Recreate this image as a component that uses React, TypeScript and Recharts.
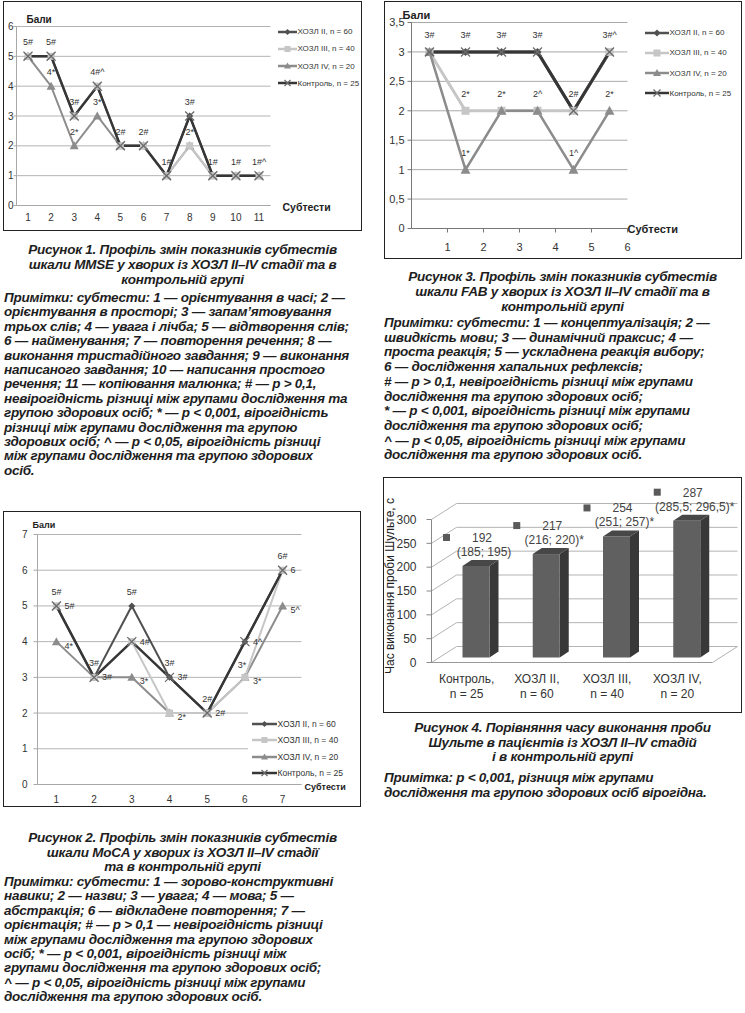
import React from 'react';
import { LineChart, Line, XAxis, YAxis, CartesianGrid, LabelList, BarChart, Bar } from 'recharts';

const FONT = '"Liberation Sans", Arial, Helvetica, sans-serif';
const INK = '#1e1e1e';

// Рисунок 1 — MMSE
const mmseSubtests = ['1', '2', '3', '4', '5', '6', '7', '8', '9', '10', '11'];
const mmseCopd2 = [5, 5, 3, 4, 2, 2, 1, 3, 1, 1, 1];
const mmseCopd3 = [5, 5, 3, 4, 2, 2, 1, 2, 1, 1, 1];
const mmseCopd4 = [5, 4, 2, 3, 2, 2, 1, 2, 1, 1, 1];
const mmseControl = [5, 5, 3, 4, 2, 2, 1, 3, 1, 1, 1];
const mmseMarksUpper = ['5#', '5#', '3#', '4#^', '2#', '2#', '1#', '3#', '1#', '1#', '1#^'];
const mmseMarksLower = ['', '4*', '2*', '3*', '', '', '', '2*', '', '', ''];

// Рисунок 3 — FAB (points sit between the axis ticks)
const fabSubtests = [0.5, 1.5, 2.5, 3.5, 4.5, 5.5];
const fabCopd2 = [3, 3, 3, 3, 2, 3];
const fabCopd3 = [3, 2, 2, 2, 2, 3];
const fabCopd4 = [3, 1, 2, 2, 1, 2];
const fabControl = [3, 3, 3, 3, 2, 3];
const fabMarksUpper = ['3#', '3#', '3#', '3#', '2#', '3#^'];
const fabMarksCopd3 = ['', '2*', '', '', '', ''];
const fabMarksCopd4 = ['', '1*', '2*', '2^', '1^', '2*'];

// Рисунок 2 — MoCA
const mocaSubtests = ['1', '2', '3', '4', '5', '6', '7'];
const mocaCopd2 = [5, 3, 5, 3, 2, 4, 6];
const mocaCopd3 = [5, 3, 4, 2, 2, 3, 6];
const mocaCopd4 = [4, 3, 3, 2, 2, 3, 5];
const mocaControl = [5, 3, 4, 3, 2, 4, 6];
const mocaMarksCopd2 = ['5#', '3#', '5#', '3#', '2#', '', '6#'];
const mocaMarksCopd3 = ['', '', '', '', '', '3*', ''];
const mocaMarksControl = ['5#', '3#', '4#', '3#', '2#', '4^', '6'];
const mocaMarksCopd4 = ['4*', '', '3*', '2*', '', '3*', '5^'];

// Рисунок 4 — проба Шульте
const shulteGroups = ['Контроль, n = 25', 'ХОЗЛ II, n = 60', 'ХОЗЛ III, n = 40', 'ХОЗЛ IV, n = 20'];
const shulteMedians = [192, 217, 254, 287];
const shulteRanges = ['(185; 195)', '(216; 220)*', '(251; 257)*', '(285,5; 296,5)*'];

const SERIES: Record<string, { name: string; color: string; kind: string }> = {
  copd2: { name: 'ХОЗЛ II, n = 60', color: '#505050', kind: 'diamond' },
  copd3: { name: 'ХОЗЛ III, n = 40', color: '#c6c6c6', kind: 'square' },
  copd4: { name: 'ХОЗЛ IV, n = 20', color: '#8c8c8c', kind: 'triangle' },
  control: { name: 'Контроль, n = 25', color: '#363636', kind: 'cross' },
};
const legendOrder = ['copd2', 'copd3', 'copd4', 'control'];

const Marker = ({ kind, cx, cy, color, s = 4 }: any) => {
  if (cx == null || cy == null) return null;
  switch (kind) {
    case 'diamond':
      return <polygon points={`${cx},${cy - s} ${cx + s},${cy} ${cx},${cy + s} ${cx - s},${cy}`} fill={color} />;
    case 'square':
      return <rect x={cx - s} y={cy - s} width={2 * s} height={2 * s} fill={color} />;
    case 'triangle':
      return <polygon points={`${cx},${cy - s - 0.5} ${cx + s + 0.5},${cy + s - 0.5} ${cx - s - 0.5},${cy + s - 0.5}`} fill={color} />;
    default:
      return (
        <g stroke="#6a6a6a" strokeWidth={1.3}>
          <line x1={cx - s} y1={cy - s} x2={cx + s} y2={cy + s} />
          <line x1={cx - s} y1={cy + s} x2={cx + s} y2={cy - s} />
        </g>
      );
  }
};

const dotFor = (key: string, s: number) => (p: any) => (
  <g key={`${key}-${p.index}`}>
    <Marker kind={SERIES[key].kind} cx={p.cx} cy={p.cy} color={SERIES[key].color} s={s} />
  </g>
);

const mark = (dx: number, dy: number, anchor: 'middle' | 'start' = 'middle', size = 9) => (p: any) => {
  if (!p.value) return null;
  const x = p.x ?? p.viewBox?.x;
  const y = p.y ?? p.viewBox?.y;
  return (
    <text key={`m-${p.index}-${p.value}`} x={x + dx} y={y + dy} textAnchor={anchor} fontSize={size} fill="#333" fontFamily={FONT}>
      {p.value}
    </text>
  );
};

const SeriesKey = ({ left, top, gap, fontSize, lineLen, s }: any) => (
  <div style={{ position: 'absolute', left, top, fontFamily: FONT, fontSize, color: '#333' }}>
    {legendOrder.map((k, i) => {
      const st = SERIES[k];
      return (
        <div key={k} style={{ position: 'absolute', top: i * gap - 6, left: 0, height: 12, display: 'flex', alignItems: 'center', whiteSpace: 'nowrap' }}>
          <svg width={lineLen} height={12} style={{ display: 'block' }}>
            <line x1={0} y1={6} x2={lineLen} y2={6} stroke={st.color} strokeWidth={2.5} />
            <Marker kind={st.kind} cx={lineLen / 2} cy={6} color={st.color} s={s} />
          </svg>
          <span style={{ marginLeft: 1 }}>{st.name}</span>
        </div>
      );
    })}
  </div>
);

const AxisWord = ({ left, top, size, children }: any) => (
  <div style={{ position: 'absolute', left, top: top - 7, height: 14, lineHeight: '14px', fontFamily: FONT, fontWeight: 'bold', fontSize: size, color: '#222', whiteSpace: 'nowrap' }}>
    {children}
  </div>
);

const Frame = ({ left, top, width, height, children }: any) => (
  <div style={{ position: 'absolute', left, top, width, height, border: '1.5px solid #222', boxSizing: 'border-box', background: '#fff' }}>
    {children}
  </div>
);

const TextLines = ({ lines, left, width, top, step, align }: any) => (
  <>
    {lines.map((t: string, i: number) => (
      <div
        key={i}
        style={{
          position: 'absolute', left, width, top: top + i * step - 8, height: 16, lineHeight: '16px',
          textAlign: align, whiteSpace: 'nowrap', fontFamily: FONT, fontWeight: 'bold', fontStyle: 'italic',
          fontSize: 13.5, letterSpacing: -0.25, color: INK,
        }}
      >
        {t}
      </div>
    ))}
  </>
);

const tickStyle = (size: number) => ({ fontSize: size, fill: '#333', fontFamily: FONT });
const lineProps = (key: string, width: number, s: number) => ({
  dataKey: key,
  type: 'linear' as const,
  stroke: SERIES[key].color,
  strokeWidth: width,
  dot: dotFor(key, s),
  activeDot: false,
  isAnimationActive: false,
});

const MmseChart = () => {
  const data = mmseSubtests.map((s, i) => ({
    s, copd2: mmseCopd2[i], copd3: mmseCopd3[i], copd4: mmseCopd4[i], control: mmseControl[i],
    up: mmseMarksUpper[i], low: mmseMarksLower[i],
  }));
  return (
    <LineChart width={356} height={227} data={data} margin={{ top: 24.5, right: 89.5, bottom: 0, left: 0 }}>
      <CartesianGrid vertical={false} stroke="#b4b4b4" />
      <XAxis dataKey="s" height={23.5} interval={0} padding={{ left: 11.5, right: 11.5 }} tickLine={false} axisLine={{ stroke: '#a8a8a8' }} tick={tickStyle(10)} />
      <YAxis width={12.5} domain={[0, 6]} ticks={[0, 1, 2, 3, 4, 5, 6]} tickSize={3} tickMargin={0} axisLine={{ stroke: '#a8a8a8' }} tickLine={{ stroke: '#a8a8a8' }} tick={tickStyle(10)} />
      <Line {...lineProps('copd2', 2, 3.5)} />
      <Line {...lineProps('copd4', 2, 4)}>
        <LabelList dataKey="low" content={mark(0, -11)} />
      </Line>
      <Line {...lineProps('copd3', 2, 3.5)} />
      <Line {...lineProps('control', 2.5, 4.5)}>
        <LabelList dataKey="up" content={mark(0, -11)} />
      </Line>
    </LineChart>
  );
};

const FabChart = () => {
  const data = fabSubtests.map((pos, i) => ({
    pos, copd2: fabCopd2[i], copd3: fabCopd3[i], copd4: fabCopd4[i], control: fabControl[i],
    up: fabMarksUpper[i], m3: fabMarksCopd3[i], m4: fabMarksCopd4[i],
  }));
  return (
    <LineChart width={355} height={255} data={data} margin={{ top: 20.5, right: 112.5, bottom: 0, left: 0 }}>
      <CartesianGrid vertical={false} stroke="#a9a9a9" />
      <XAxis dataKey="pos" type="number" domain={[0, 6]} ticks={[1, 2, 3, 4, 5, 6]} height={28.5} tickSize={4} tickMargin={11} axisLine={{ stroke: '#777' }} tickLine={{ stroke: '#777' }} tick={tickStyle(11)} />
      <YAxis width={26.5} domain={[0, 3.5]} ticks={[0, 0.5, 1, 1.5, 2, 2.5, 3, 3.5]} tickFormatter={(v: number) => String(v).replace('.', ',')} tickSize={4} tickMargin={3} axisLine={{ stroke: '#777' }} tickLine={{ stroke: '#777' }} tick={tickStyle(11)} />
      <Line {...lineProps('copd2', 3, 4)} />
      <Line {...lineProps('copd3', 3, 4)}>
        <LabelList dataKey="m3" content={mark(0, -14)} />
      </Line>
      <Line {...lineProps('copd4', 2.5, 4.5)}>
        <LabelList dataKey="m4" content={mark(0, -14)} />
      </Line>
      <Line {...lineProps('control', 3, 4.5)}>
        <LabelList dataKey="up" content={mark(0, -14)} />
      </Line>
    </LineChart>
  );
};

const MocaChart = () => {
  const data = mocaSubtests.map((s, i) => ({
    s, copd2: mocaCopd2[i], copd3: mocaCopd3[i], copd4: mocaCopd4[i], control: mocaControl[i],
    m2: mocaMarksCopd2[i], m3: mocaMarksCopd3[i], mc: mocaMarksControl[i], m4: mocaMarksCopd4[i],
  }));
  return (
    <LineChart width={355} height={292} data={data} margin={{ top: 22.5, right: 57.5, bottom: 0, left: 0 }}>
      <CartesianGrid vertical={false} stroke="#b4b4b4" />
      <XAxis dataKey="s" height={19.5} interval={0} padding={{ left: 18.9, right: 18.9 }} tickLine={false} tickMargin={5} axisLine={{ stroke: '#a8a8a8' }} tick={tickStyle(10)} />
      <YAxis width={33.5} domain={[0, 7]} ticks={[0, 1, 2, 3, 4, 5, 6, 7]} tickSize={4} tickMargin={6} axisLine={{ stroke: '#a8a8a8' }} tickLine={{ stroke: '#a8a8a8' }} tick={tickStyle(10)} />
      <Line {...lineProps('copd2', 2, 3.5)}>
        <LabelList dataKey="m2" content={mark(0, -11)} />
      </Line>
      <Line {...lineProps('copd4', 2, 4)}>
        <LabelList dataKey="m4" content={mark(8, 7, 'start')} />
      </Line>
      <Line {...lineProps('copd3', 2, 3.5)}>
        <LabelList dataKey="m3" content={mark(-3, -9)} />
      </Line>
      <Line {...lineProps('control', 2.5, 4.5)}>
        <LabelList dataKey="mc" content={mark(8, 3, 'start')} />
      </Line>
    </LineChart>
  );
};

// 3D look of the Excel column chart
const GRID_DX = 25;
const GRID_DY = 16;
const BAR_SHIFT_X = 9;
const BAR_SHIFT_Y = -5;
const BAR_DX = 9;
const BAR_DY = 6;
const SHULTE_FLOOR = 184.5;

const Column3D = (p: any) => {
  const { x, y, width, height } = p;
  const fx = x + BAR_SHIFT_X;
  const fy = y + BAR_SHIFT_Y;
  return (
    <g>
      <polygon points={`${fx},${fy} ${fx + BAR_DX},${fy - BAR_DY} ${fx + width + BAR_DX},${fy - BAR_DY} ${fx + width},${fy}`} fill="#474747" />
      <polygon points={`${fx + width},${fy} ${fx + width + BAR_DX},${fy - BAR_DY} ${fx + width + BAR_DX},${fy + height - BAR_DY} ${fx + width},${fy + height}`} fill="#383838" />
      <rect x={fx} y={fy} width={width} height={height} fill="#606060" />
    </g>
  );
};

const backGridLine = (p: any) => {
  const { x1, y1, x2 } = p;
  return (
    <g key={`bg-${y1}`} stroke="#b3b3b3" fill="none">
      <polyline points={`${x1},${y1} ${x1 + GRID_DX},${y1 - GRID_DY} ${x2 + GRID_DX},${y1 - GRID_DY}`} />
      {Math.abs(y1 - SHULTE_FLOOR) < 1 && <line x1={x2} y1={y1} x2={x2 + GRID_DX} y2={y1 - GRID_DY} />}
    </g>
  );
};

const shulteLabel = (p: any) => {
  const { x, y, width, index, value } = p;
  const cx = x + width / 2 + BAR_SHIFT_X;
  const ty = y + BAR_SHIFT_Y;
  return (
    <g key={`sl-${index}`} fontFamily={FONT} fontSize={12} fill="#444">
      <rect x={cx - 33} y={ty - 32} width={7} height={7} fill="#5a5a5a" />
      <text x={cx + 6} y={ty - 24} textAnchor="middle">{shulteMedians[index]}</text>
      <text x={cx + 8} y={ty - 10} textAnchor="middle">{value}</text>
    </g>
  );
};

const ShulteTick = (p: any) => {
  const [a, b] = String(p.payload.value).split(', ');
  return (
    <g fontFamily={FONT} fontSize={12} fill="#333">
      <text x={p.x} y={p.y + 12} textAnchor="middle">{a},</text>
      <text x={p.x} y={p.y + 27} textAnchor="middle">{b}</text>
    </g>
  );
};

const ShulteChart = () => {
  const data = shulteGroups.map((g, i) => ({ g, v: shulteMedians[i], range: shulteRanges[i] }));
  return (
    <BarChart width={356} height={233} data={data} margin={{ top: 41.5, right: 27.5, bottom: 0, left: 0 }} barSize={27}>
      <CartesianGrid vertical={false} horizontal={backGridLine} />
      <XAxis dataKey="g" height={48.5} tickLine={false} axisLine={{ stroke: '#999' }} tick={ShulteTick} interval={0} />
      <YAxis width={47.5} domain={[0, 300]} ticks={[0, 50, 100, 150, 200, 250, 300]} tickSize={5} tickMargin={10} axisLine={{ stroke: '#888' }} tickLine={{ stroke: '#888' }} tick={tickStyle(12)} />
      <Bar dataKey="v" shape={Column3D} isAnimationActive={false}>
        <LabelList dataKey="range" content={shulteLabel} />
      </Bar>
    </BarChart>
  );
};

const fig1Title = [
  'Рисунок 1. Профіль змін показників субтестів',
  'шкали MMSE у хворих із ХОЗЛ II–IV стадії та в',
  'контрольній групі',
];
const fig1Notes = [
  'Примітки: субтести: 1 — орієнтування в часі; 2 —',
  'орієнтування в просторі; 3 — запам’ятовування',
  'трьох слів; 4 — увага і лічба; 5 — відтворення слів;',
  '6 — найменування; 7 — повторення речення; 8 —',
  'виконання тристадійного завдання; 9 — виконання',
  'написаного завдання; 10 — написання простого',
  'речення; 11 — копіювання малюнка; # — p > 0,1,',
  'невірогідність різниці між групами дослідження та',
  'групою здорових осіб; * — p < 0,001, вірогідність',
  'різниці між групами дослідження та групою',
  'здорових осіб; ^ — p < 0,05, вірогідність різниці',
  'між групами дослідження та групою здорових',
  'осіб.',
];
const fig3Title = [
  'Рисунок 3. Профіль змін показників субтестів',
  'шкали FAB у хворих із ХОЗЛ II–IV стадії та в',
  'контрольній групі',
];
const fig3Notes = [
  'Примітки: субтести: 1 — концептуалізація; 2 —',
  'швидкість мови; 3 — динамічний праксис; 4 —',
  'проста реакція; 5 — ускладнена реакція вибору;',
  '6 — дослідження хапальних рефлексів;',
  '# — p > 0,1, невірогідність різниці між групами',
  'дослідження та групою здорових осіб;',
  '* — p < 0,001, вірогідність різниці між групами',
  'дослідження та групою здорових осіб;',
  '^ — p < 0,05, вірогідність різниці між групами',
  'дослідження та групою здорових осіб.',
];
const fig2Title = [
  'Рисунок 2. Профіль змін показників субтестів',
  'шкали MoCA у хворих із ХОЗЛ II–IV стадії',
  'та в контрольній групі',
];
const fig2Notes = [
  'Примітки: субтести: 1 — зорово-конструктивні',
  'навики; 2 — назви; 3 — увага; 4 — мова; 5 —',
  'абстракція; 6 — відкладене повторення; 7 —',
  'орієнтація; # — p > 0,1 — невірогідність різниці',
  'між групами дослідження та групою здорових',
  'осіб; * — p < 0,001, вірогідність різниці між',
  'групами дослідження та групою здорових осіб;',
  '^ — p < 0,05, вірогідність різниці між групами',
  'дослідження та групою здорових осіб.',
];
const fig4Title = [
  'Рисунок 4. Порівняння часу виконання проби',
  'Шульте в пацієнтів із ХОЗЛ II–IV стадій',
  'і в контрольній групі',
];
const fig4Notes = [
  'Примітка: p < 0,001, різниця між групами',
  'дослідження та групою здорових осіб вірогідна.',
];

export default function App() {
  return (
    <div style={{ position: 'absolute', left: 0, top: 0, width: 745, height: 1013, background: '#fff', overflow: 'hidden' }}>
      <Frame left={3} top={1} width={359} height={230}>
        <MmseChart />
        <AxisWord left={22.5} top={17.5} size={10}>Бали</AxisWord>
        <AxisWord left={278.5} top={204.5} size={10.5}>Субтести</AxisWord>
        <SeriesKey left={273.5} top={29.5} gap={17.3} fontSize={8} lineLen={19} s={3} />
      </Frame>

      <Frame left={384} top={1} width={358} height={258}>
        <FabChart />
        <AxisWord left={17.5} top={12.5} size={11}>Бали</AxisWord>
        <AxisWord left={242.5} top={226.5} size={11}>Субтести</AxisWord>
        <SeriesKey left={259.5} top={30.5} gap={20.3} fontSize={8} lineLen={24} s={3.5} />
      </Frame>

      <Frame left={3} top={511} width={358} height={296}>
        <MocaChart />
        <AxisWord left={28.5} top={12.5} size={9}>Бали</AxisWord>
        <AxisWord left={300.5} top={274.5} size={9}>Субтести</AxisWord>
        <div style={{ position: 'absolute', left: 244, top: 194, width: 108, height: 76, background: '#fff' }} />
        <SeriesKey left={247.5} top={211.5} gap={16.5} fontSize={8.5} lineLen={25} s={3} />
      </Frame>

      <Frame left={383} top={477} width={359} height={236}>
        <ShulteChart />
        <div
          style={{
            position: 'absolute', left: 6, top: 108, transform: 'translate(-50%, -50%) rotate(-90deg)',
            whiteSpace: 'nowrap', fontFamily: FONT, fontSize: 12, color: '#222',
          }}
        >
          Час виконання проби Шульте, с
        </div>
      </Frame>

      <TextLines lines={fig1Title} left={3} width={359} top={250} step={14.8} align="center" />
      <TextLines lines={fig1Notes} left={4} width={360} top={298} step={14.4} align="left" />

      <TextLines lines={fig3Title} left={383} width={359} top={277} step={15} align="center" />
      <TextLines lines={fig3Notes} left={384} width={360} top={323} step={14.7} align="left" />

      <TextLines lines={fig4Title} left={383} width={359} top={728} step={14.5} align="center" />
      <TextLines lines={fig4Notes} left={384} width={360} top={778} step={14.6} align="left" />

      <TextLines lines={fig2Title} left={3} width={359} top={838} step={14.5} align="center" />
      <TextLines lines={fig2Notes} left={4} width={360} top={882} step={14.4} align="left" />
    </div>
  );
}
